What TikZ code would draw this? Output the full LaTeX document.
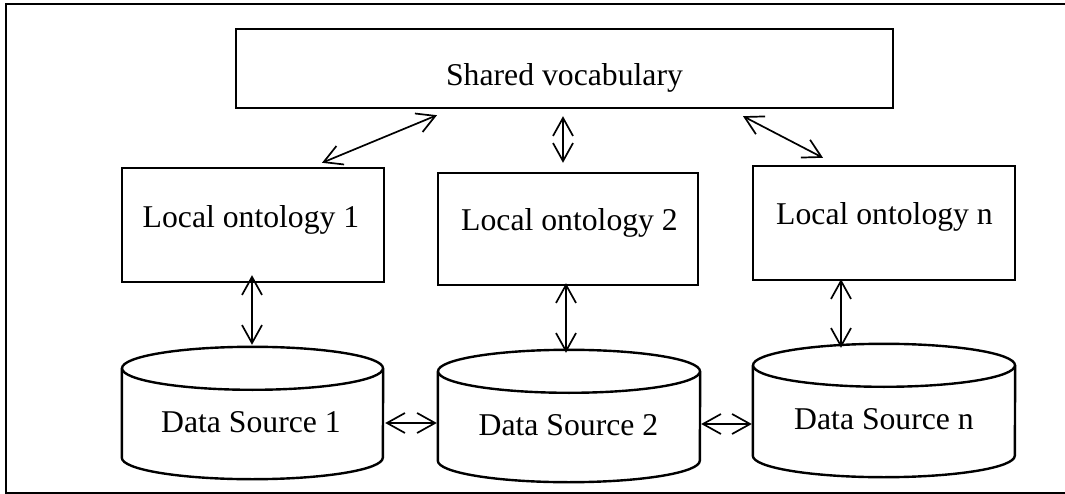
\documentclass[tikz,border=0pt]{standalone}
\usepackage{fontspec}
\setmainfont{Liberation Serif}
\usetikzlibrary{arrows.meta,calc}

\tikzset{
  box/.style={draw, line width=2.4pt, rectangle, inner sep=0pt},
  store/.style={rectangle, inner sep=0pt},
  lbl/.style={anchor=base, inner sep=0pt, font=\fontsize{31.7}{38}\selectfont},
  link/.style={line width=1.7pt, {Straight Barb[length=18pt,width=20pt]}-{Straight Barb[length=18pt,width=20pt]}},
  frame/.style={line width=2.2pt},
}

% database cylinder drawn inside the bounding rectangle of node #1
\newcommand{\dbdrum}[3]{%
  \draw[line width=2.4pt] ([yshift=-#3pt]#1.north) ellipse (#2pt and #3pt);
  \draw[line width=2.4pt] ([yshift=-#3pt]#1.north west) -- ([yshift=#3pt]#1.south west)
    arc (180:360:#2pt and #3pt) -- ([yshift=-#3pt]#1.north east);
}

\begin{document}
\begin{tikzpicture}[x=1pt,y=1pt]
\useasboundingbox (0,0) rectangle (1065,-494);

% outer frame (open on the right)
\draw[frame] (1066,-4) -- (6,-4) -- (6,-493) -- (1066,-493);

% shared vocabulary
\node[box, minimum width=657pt, minimum height=79pt] (sv) at (564.5,-68.5) {};
\node[lbl] (svt) at (564.5,-86) {Shared vocabulary};

% local ontologies
\node[box, minimum width=262pt, minimum height=114pt] (lo1) at (253,-225) {};
\node[lbl] (lo1t) at (251,-228) {Local ontology 1};
\node[box, minimum width=260pt, minimum height=112pt] (lo2) at (568,-229) {};
\node[lbl] (lo2t) at (569.5,-231) {Local ontology 2};
\node[box, minimum width=262pt, minimum height=114pt] (lon) at (884,-223) {};
\node[lbl] (lont) at (884.5,-225) {Local ontology n};

% data sources
\node[store, minimum width=261pt, minimum height=132pt] (ds1) at (252.5,-413) {};
\dbdrum{ds1}{130.5}{21.5}
\node[lbl] (ds1t) at (251,-432) {Data Source 1};
\node[store, minimum width=262pt, minimum height=132pt] (ds2) at (569,-416) {};
\dbdrum{ds2}{131}{21.5}
\node[lbl] (ds2t) at (568.5,-435) {Data Source 2};
\node[store, minimum width=262pt, minimum height=133pt] (dsn) at (884,-410.5) {};
\dbdrum{dsn}{131}{21.5}
\node[lbl] (dsnt) at (884,-429) {Data Source n};

% vocabulary <-> ontologies
\draw[link] ([xshift=-127.5pt,yshift=-6pt]sv.south) -- ([xshift=69pt,yshift=4pt]lo1.north);
\draw[link] ([xshift=-1.5pt,yshift=-7pt]sv.south) -- ([xshift=-5pt,yshift=9pt]lo2.north);
\draw[link] ([xshift=178.5pt,yshift=-7pt]sv.south) -- ([xshift=-61pt,yshift=7pt]lon.north);

% ontologies <-> data sources
\draw[link] ([xshift=-1pt,yshift=8pt]lo1.south) -- ([xshift=-0.5pt,yshift=2pt]ds1.north);
\draw[link] ([xshift=-2pt,yshift=3pt]lo2.south) -- ([xshift=-3pt,yshift=-3pt]ds2.north);
\draw[link] ([xshift=-43pt,yshift=2pt]lon.south) -- ([xshift=-43pt,yshift=-4pt]dsn.north);

% data source <-> data source
\draw[link] ([xshift=2pt,yshift=-10pt]ds1.east) -- ([xshift=-1pt,yshift=-7pt]ds2.west);
\draw[link] ([xshift=1pt,yshift=-8pt]ds2.east) -- ([xshift=-1pt,yshift=-13.5pt]dsn.west);
\end{tikzpicture}
\end{document}
